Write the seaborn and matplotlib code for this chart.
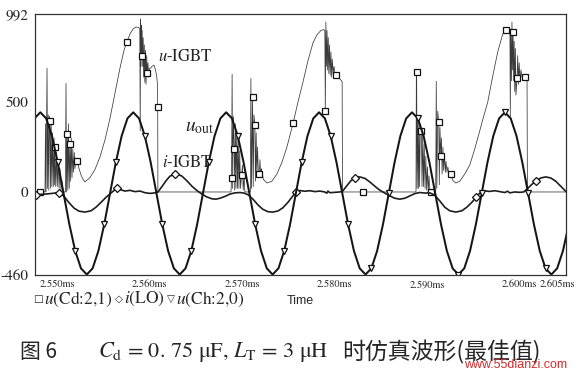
import numpy as np
import matplotlib
matplotlib.use("Agg")
import matplotlib.pyplot as plt
import matplotlib.transforms as mtransforms
import seaborn as sns

# time axis in microseconds, tick labels printed as ms
t_left, t_right = 2547.62, 2605.0
xtick_vals = [2550, 2560, 2570, 2580, 2590, 2600, 2605]
xtick_labels = ["2.550ms", "2.560ms", "2.570ms", "2.580ms", "2.590ms", "2.600ms", "2.605ms"]
ytick_vals = [-460, 0, 500, 992]
ytick_labels = ["-460", "0", "500", "992"]

# u(Ch:2,0) = u_out, read every 0.6275 us from 2547.57 us
uout_t0 = 2547.57
uout_dt = 0.6275
uout_v = [410,
          444, 410, 312, 165, -8, -181, -328, -426, -460, -426, -328, -181, -8, 165, 312, 410,
          444, 410, 312, 165, -8, -181, -328, -426, -460, -426, -328, -181, -8, 165, 312, 410,
          444, 410, 312, 165, -8, -181, -328, -426, -460, -426, -328, -181, -8, 165, 312, 410,
          444, 410, 312, 165, -8, -181, -328, -426, -460, -426, -328, -181, -8, 165, 312, 410,
          444, 410, 312, 165, -8, -181, -328, -426, -460, -426, -328, -181, -8, 165, 312, 410,
          444, 410, 312, 165, -8, -181, -328, -426, -460, -426, -328, -181]
uout_marks = [4, 7, 12, 14, 19, 22, 27, 30, 35, 38, 43, 46, 51, 54, 58, 61, 66, 73, 77, 81, 85, 88]

# u(Cd:2,1) = u-IGBT (time us, volts)
uigbt_pts = [
    (2547.62, 0), (2548.16, 0), (2548.65, 0),
    (2548.70, 0), (2548.75, 380), (2548.81, 0), (2548.92, 690), (2548.98, 20), (2549.05, 430),
    (2549.11, 10), (2549.18, 420), (2549.24, 394), (2549.30, 20), (2549.37, 380), (2549.44, 30),
    (2549.52, 330), (2549.60, 30), (2549.68, 300), (2549.74, 40), (2549.78, 250), (2549.86, 30),
    (2549.95, 220), (2550.03, 30), (2550.12, 180), (2550.22, 20), (2550.32, 130), (2550.43, 10),
    (2550.54, 60), (2550.65, 0), (2550.90, 0),
    (2550.97, 605), (2551.03, 0), (2551.11, 325), (2551.17, 10), (2551.24, 380), (2551.32, 20),
    (2551.40, 267), (2551.47, 60), (2551.54, 300), (2551.62, 80), (2551.71, 240), (2551.78, 110),
    (2551.87, 220), (2551.94, 130), (2552.03, 190), (2552.11, 150), (2552.19, 174), (2552.38, 130),
    (2552.59, 95), (2552.81, 70), (2553.02, 56),
    (2553.56, 80), (2554.10, 125), (2554.64, 195), (2555.18, 290), (2555.72, 410), (2556.26, 550),
    (2556.80, 690), (2557.24, 790), (2557.53, 835), (2557.88, 880), (2558.21, 908), (2558.53, 920),
    (2558.86, 915), (2558.94, 912), (2558.99, 340), (2559.03, 964), (2559.08, 700), (2559.12, 930),
    (2559.15, 759), (2559.20, 900), (2559.26, 700), (2559.31, 860), (2559.36, 640), (2559.43, 820),
    (2559.49, 610), (2559.56, 790), (2559.62, 600), (2559.69, 760), (2559.75, 661), (2559.83, 720),
    (2559.90, 640), (2559.99, 690), (2560.10, 690), (2560.26, 700), (2560.48, 706), (2560.64, 680),
    (2560.77, 646), (2560.85, 600), (2560.88, 475), (2560.90, 0),
    (2568.80, 0), (2568.86, 77), (2568.92, 656), (2568.98, 20), (2569.06, 420), (2569.15, 239),
    (2569.20, 10), (2569.27, 380), (2569.34, 20), (2569.42, 340), (2569.50, 20), (2569.58, 290),
    (2569.66, 20), (2569.74, 230), (2569.83, 20), (2569.95, 95), (2570.04, 150), (2570.12, 10),
    (2570.22, 90), (2570.30, 0), (2570.89, 0),
    (2570.95, 633), (2571.02, 20), (2571.13, 531), (2571.20, 30), (2571.28, 430), (2571.38, 376),
    (2571.44, 60), (2571.52, 330), (2571.59, 90), (2571.67, 250), (2571.75, 110), (2571.85, 99),
    (2571.93, 180), (2572.01, 90), (2572.09, 130), (2572.30, 70), (2572.68, 50),
    (2573.22, 60), (2573.76, 100), (2574.30, 165), (2574.84, 250), (2575.52, 385), (2576.03, 500),
    (2576.57, 611), (2577.11, 730), (2577.65, 830), (2578.08, 875), (2578.51, 900), (2578.83, 905),
    (2578.94, 900), (2578.99, 454), (2579.05, 947), (2579.11, 700), (2579.18, 900), (2579.24, 680),
    (2579.31, 860), (2579.37, 660), (2579.45, 820), (2579.52, 650), (2579.60, 780), (2579.68, 640),
    (2579.75, 740), (2579.84, 660), (2579.93, 700), (2580.04, 660), (2580.20, 652), (2580.40, 640),
    (2580.61, 628), (2580.81, 615), (2580.85, 0),
    (2583.01, 0), (2588.79, 0), (2588.83, 684), (2588.86, 671), (2588.91, 20), (2588.98, 420),
    (2589.05, 20), (2589.12, 400), (2589.18, 30), (2589.26, 380), (2589.38, 338), (2589.44, 30),
    (2589.52, 320), (2589.60, 30), (2589.68, 270), (2589.77, 20), (2589.85, 200), (2589.94, 10),
    (2590.03, 140), (2590.11, 0), (2590.20, 90), (2590.28, 0), (2590.39, 0), (2590.92, 0),
    (2590.98, 617), (2591.04, 20), (2591.14, 450), (2591.25, 389), (2591.31, 40), (2591.38, 360),
    (2591.47, 198), (2591.54, 300), (2591.61, 100), (2591.70, 250), (2591.78, 120), (2591.87, 210),
    (2591.96, 110), (2592.04, 170), (2592.14, 110), (2592.23, 140), (2592.34, 105), (2592.52, 99),
    (2592.76, 65), (2593.09, 50),
    (2593.52, 60), (2594.06, 100), (2594.60, 150), (2595.14, 240), (2595.57, 320), (2596.04, 410),
    (2596.54, 500), (2597.08, 645), (2597.62, 780), (2598.16, 880), (2598.49, 904), (2598.81, 910),
    (2598.94, 910), (2598.98, 420), (2599.03, 900), (2599.10, 620), (2599.16, 947), (2599.21, 680),
    (2599.28, 893), (2599.34, 620), (2599.40, 840), (2599.46, 560), (2599.53, 800), (2599.59, 540),
    (2599.71, 633), (2599.78, 760), (2599.86, 600), (2599.94, 720), (2600.03, 620), (2600.13, 680),
    (2600.26, 640), (2600.54, 641), (2600.79, 630), (2600.83, 0), (2605.0, 0),
]
uigbt_squares = [2548.16, 2549.24, 2549.78, 2551.11, 2551.40, 2552.19, 2557.53, 2559.15, 2559.75,
                 2560.88, 2568.86, 2569.15, 2569.95, 2571.13, 2571.38, 2571.85, 2575.52, 2578.99,
                 2580.20, 2583.01, 2588.86, 2589.38, 2590.39, 2591.25, 2591.47, 2592.52, 2598.49,
                 2599.28, 2599.71, 2600.54]

# i(LO) = i-IGBT
ilo_pts = [
    (2547.62, -15), (2547.73, -15), (2548.70, -12), (2549.46, -8), (2550.22, -3), (2550.76, -25),
    (2551.30, -60), (2551.84, -90), (2552.38, -107), (2553.02, -112), (2553.67, -105), (2554.21, -85),
    (2554.75, -58), (2555.29, -30), (2555.83, -6), (2556.45, 21), (2556.91, 12), (2557.34, 5),
    (2557.88, 9), (2558.42, 2), (2558.96, 5), (2559.50, -4), (2560.04, -8), (2560.58, -5),
    (2560.91, 0), (2561.34, 30), (2561.77, 62), (2562.20, 88), (2562.74, 100), (2563.07, 99),
    (2563.50, 88), (2564.04, 62), (2564.58, 32), (2565.12, 8), (2565.66, -12), (2566.20, -28),
    (2566.74, -38), (2567.17, -40), (2567.60, -35), (2568.14, -25), (2568.68, -12), (2569.22, -5),
    (2569.76, -3), (2570.19, -6), (2570.63, -15), (2571.17, -40), (2571.71, -72), (2572.25, -97),
    (2572.79, -110), (2573.33, -112), (2573.87, -106), (2574.41, -88), (2574.95, -58), (2575.49, -22),
    (2575.81, 0), (2576.24, 8), (2576.78, 4), (2577.32, 7), (2577.86, 2), (2578.40, 5),
    (2578.94, 0), (2579.16, -7), (2579.27, 5), (2579.48, -4), (2580.02, -2), (2580.56, 0),
    (2580.89, 6), (2581.32, 35), (2581.75, 62), (2582.18, 80), (2582.72, 84), (2583.26, 76),
    (2583.80, 56), (2584.34, 32), (2584.88, 10), (2585.42, -6), (2585.96, -22), (2586.50, -35),
    (2587.04, -40), (2587.58, -35), (2588.12, -22), (2588.66, -9), (2589.20, -3), (2589.74, -6),
    (2590.28, -5), (2590.82, -18), (2591.36, -50), (2591.90, -85), (2592.44, -105), (2593.09, -112),
    (2593.74, -105), (2594.28, -85), (2594.82, -58), (2595.32, -28), (2595.79, 0), (2596.22, 6),
    (2596.76, 3), (2597.30, 7), (2597.84, 2), (2598.38, -3), (2598.70, 4), (2598.92, -5),
    (2599.46, 0), (2600.00, -2), (2600.43, 0), (2600.86, 20), (2601.30, 42), (2601.80, 62),
    (2602.27, 78), (2602.81, 84), (2603.35, 78), (2603.89, 60), (2604.43, 32), (2605.0, 2),
]
ilo_diamonds = [2547.73, 2550.22, 2556.45, 2562.74, 2575.81, 2582.18, 2595.32, 2601.80]

# trace names printed under the plot: (marker symbol, name)
trace_names = [("\u25a1", "$u$(Cd:2,1)"), ("\u25c7", "$i$(LO)"), ("\u25bd", "$u$(Ch:2,0)")]

sns.set_style("white")
plt.rcParams["font.family"] = ["STIXGeneral", "DejaVu Sans"]
plt.rcParams["mathtext.fontset"] = "stix"

fig = plt.figure(figsize=(5.8, 3.8), dpi=100)
ax = fig.add_axes([35 / 580, 1 - 274.5 / 380, 531 / 580, 260.5 / 380])

uigbt_t = [p[0] for p in uigbt_pts]
uigbt_v = [p[1] for p in uigbt_pts]
ilo_t = [p[0] for p in ilo_pts]
ilo_v = [p[1] for p in ilo_pts]
uout_t = uout_t0 + uout_dt * np.arange(len(uout_v))

sq_idx = [uigbt_t.index(s) for s in uigbt_squares]
dm_idx = [ilo_t.index(s) for s in ilo_diamonds]

sns.lineplot(x=uigbt_t, y=uigbt_v, ax=ax, color="#3a3a3a", lw=0.55, sort=False, estimator=None,
             marker="s", markevery=sq_idx, markersize=4.3, markerfacecolor="white",
             markeredgecolor="#111111", markeredgewidth=0.9)
sns.lineplot(x=ilo_t, y=ilo_v, ax=ax, color="#1e1e1e", lw=1.2, sort=False, estimator=None,
             marker="D", markevery=dm_idx, markersize=3.8, markerfacecolor="white",
             markeredgecolor="#111111", markeredgewidth=0.9)
sns.lineplot(x=uout_t, y=uout_v, ax=ax, color="#151515", lw=1.45, sort=False, estimator=None,
             marker="v", markevery=uout_marks, markersize=5, markerfacecolor="white",
             markeredgecolor="#111111", markeredgewidth=0.9)

ax.set_xlim(t_left, t_right)
ax.set_ylim(-460, 992)
ax.set_xticks(xtick_vals)
ax.set_xticklabels(xtick_labels, fontsize=7.5)
ax.set_yticks(ytick_vals)
ax.set_yticklabels(ytick_labels, fontsize=11)
ax.set_xlabel("")
ax.set_ylabel("")
ax.tick_params(direction="out", length=3, width=0.8, color="#333333", pad=2)
ax.tick_params(axis="x", pad=0.5)
for s in ax.spines.values():
    s.set_color("#333333")
    s.set_linewidth(0.9)

# the last tick label sits against the right end, as in the PSpice print
last = ax.get_xticklabels()[-1]
last.set_horizontalalignment("right")
last.set_transform(last.get_transform() + mtransforms.ScaledTranslation(0.09, 0, fig.dpi_scale_trans))

# labels inside the plot
ax.text(2560.91, 751, "$u$-IGBT", fontsize=12, va="center", ha="left")
ax.text(2563.82, 359, "$u_{\\rm out}$", fontsize=14, va="center", ha="left")
ax.text(2561.34, 163, "$i$-IGBT", fontsize=12, va="center", ha="left")

# trace names: each piece is chained to the end of the previous one
prev = fig.text(31 / 580, 1 - 299 / 380, "", fontsize=12.5, va="center", ha="left")
for sym, name in trace_names:
    prev = ax.annotate(sym, xy=(1, 0.5), xycoords=prev, xytext=(1.5, 0), textcoords="offset points",
                       fontsize=7.5, family="DejaVu Sans", va="center", ha="left",
                       annotation_clip=False)
    prev = ax.annotate(name, xy=(1, 0.5), xycoords=prev, xytext=(1, 0), textcoords="offset points",
                       fontsize=12.5, va="center", ha="left", annotation_clip=False)
fig.text(287 / 580, 1 - 301 / 380, "Time", fontsize=9, family="Liberation Sans",
         va="center", ha="left")

# caption
fig.text(20 / 580, 1 - 352 / 380, "图 6", fontsize=15, family=["Noto Sans CJK SC"],
         va="center", ha="left")
fig.text(98 / 580, 1 - 352 / 380, "$C_{\\rm d}$ = 0. 75 μF, $L_{\\rm T}$ = 3 μH",
         fontsize=16, va="center", ha="left")
fig.text(342 / 580, 1 - 352 / 380, "时仿真波形(最佳值)", fontsize=16.5,
         family=["Noto Sans CJK SC", "DejaVu Sans"], va="center", ha="left")
fig.text(464 / 580, 1 - 365 / 380, "www.55dianzi.com", fontsize=9, color="#d42a2a",
         family="Liberation Sans", va="center", ha="left")

fig.savefig("out.png", dpi=100)
